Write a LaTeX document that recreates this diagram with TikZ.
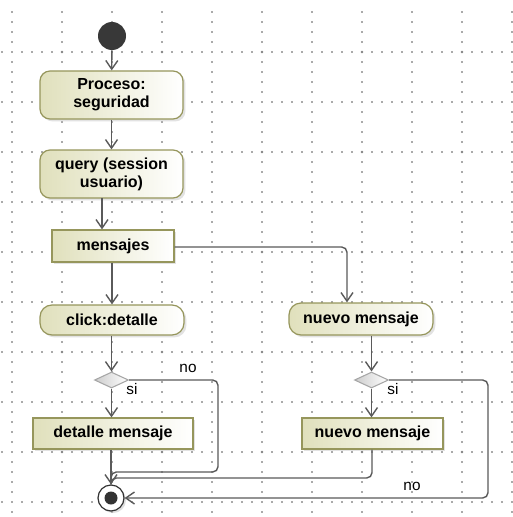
\documentclass[tikz,border=0pt]{standalone}
\usepackage{fontspec}
\setmainfont{Liberation Sans}
\usetikzlibrary{shapes.geometric,arrows.meta,shadows}
\definecolor{boxfill}{RGB}{224,224,188}
\definecolor{boxline}{RGB}{150,150,92}
\definecolor{wire}{RGB}{90,90,90}
\definecolor{griddot}{RGB}{170,170,170}
\tikzset{
  act/.style={draw=boxline, line width=0.9pt, left color=boxfill, right color=white,
    rounded corners=7.5pt, align=center, font=\bfseries\fontsize{12}{13.5}\selectfont,
    inner sep=0pt, drop shadow={shadow xshift=1.8pt, shadow yshift=-1.8pt, fill=gray!45}},
  objbox/.style={draw=boxline, line width=0.9pt, left color=boxfill, right color=white,
    align=center, font=\bfseries\fontsize{12}{13.5}\selectfont,
    inner sep=0pt, drop shadow={shadow xshift=1.8pt, shadow yshift=-1.8pt, fill=gray!45}},
  decis/.style={diamond, draw=gray!70, line width=0.8pt, left color=gray!40, right color=white,
    inner sep=0pt, minimum width=25.5pt, minimum height=12pt},
  flow/.style={draw=wire, line width=1.05pt, -{Straight Barb[length=6.5pt,width=9pt]}},
  wireline/.style={draw=wire, line width=1.05pt, rounded corners=4pt},
  lbl/.style={font=\fontsize{11.5}{13}\selectfont, inner sep=0pt}
}
\begin{document}
\begin{tikzpicture}[x=0.75pt,y=-0.75pt]
\useasboundingbox (0,0) rectangle (513,517);
\fill[white] (0,0) rectangle (513,517);
% grid dots
\foreach \gx in {12,62,...,512}{
  \foreach \gy in {12,22,...,512}{
    \fill[griddot] (\gx-0.6,\gy-0.6) rectangle (\gx+0.6,\gy+0.6);
  }
}
\foreach \gy in {52,102,...,502}{
  \foreach \gx in {2,12,...,512}{
    \fill[griddot] (\gx-0.6,\gy-0.6) rectangle (\gx+0.6,\gy+0.6);
  }
}
\foreach \gx in {62,162,...,462}{
  \foreach \gy in {52,152,...,452}{
    \fill[griddot!80!black] (\gx,\gy) circle (1.3);
  }
}
% nodes
\node[circle, fill=black!78, minimum size=21pt, inner sep=0pt] (init) at (112,36) {};
\node[act, minimum width=107.25pt, minimum height=36pt] (proc) at (111.5,95) {Proceso:\\seguridad};
\node[act, minimum width=107.25pt, minimum height=36pt] (query) at (111.5,174) {query (session\\usuario)};
\node[objbox, minimum width=91.5pt, minimum height=24pt] (mens) at (113,246) {mensajes};
\node[act, rounded corners=9pt, minimum width=108pt, minimum height=22.5pt] (click) at (112,320) {click:detalle};
\node[decis] (d1) at (111.5,380) {};
\node[objbox, minimum width=120pt, minimum height=23.25pt] (det) at (113,433.5) {detalle mensaje};
\node[circle, draw=black!80, line width=0.9pt, fill=white, minimum size=19.5pt, inner sep=0pt,
  drop shadow={shadow xshift=1.5pt, shadow yshift=-1.5pt, fill=gray!50}] (final) at (111,498) {};
\fill[black!80] (final.center) circle (6.5);
\node[act, rounded corners=9pt, minimum width=108pt, minimum height=24pt] (nuevo1) at (361,319) {nuevo mensaje};
\node[decis] (d2) at (371.5,380) {};
\node[objbox, minimum width=105.75pt, minimum height=23.25pt] (nuevo2) at (372.5,433.5) {nuevo mensaje};
% coordinates
\coordinate (qa) at (102,198);
\coordinate (ma) at (347,247);
\coordinate (r1) at (218,380);
\coordinate (r1b) at (218,472);
\coordinate (j1) at (111,472);
\coordinate (b2) at (372,478);
\coordinate (j2) at (111,478);
\coordinate (r2) at (488,380);
\coordinate (r2b) at (488,498);
% connectors
\draw[flow] (init) -- (proc);
\draw[flow] (proc) -- (query);
\draw[flow] (qa) -- (qa |- mens.north);
\draw[flow, rounded corners=4pt] (mens.east |- ma) -| (ma |- nuevo1.north);
\draw[flow] (mens.south -| click.north) -- (click.north);
\draw[flow] (click.south -| d1.north) -- (d1.north);
\draw[flow] (d1.south) -- (d1.south |- det.north);
\draw[wireline] (d1.east) -- (r1) -- (r1b) -- (j1) -- (final.north);
\draw[flow] (det.south -| final.north) -- (final.north);
\draw[flow] (nuevo1.south -| d2.north) -- (d2.north);
\draw[flow] (d2.south) -- (d2.south |- nuevo2.north);
\draw[wireline] (nuevo2.south -| b2) -- (b2) -- (j2) -- (final.north);
\draw[flow, rounded corners=4pt] (d2.east) -- (r2) -- (r2b) -- (final.east);
% labels
\node[lbl] (si1) at (132,389) {si};
\node[lbl] (no1) at (188,368) {no};
\node[lbl] (si2) at (393,389) {si};
\node[lbl] (no2) at (412,486) {no};
\end{tikzpicture}
\end{document}
